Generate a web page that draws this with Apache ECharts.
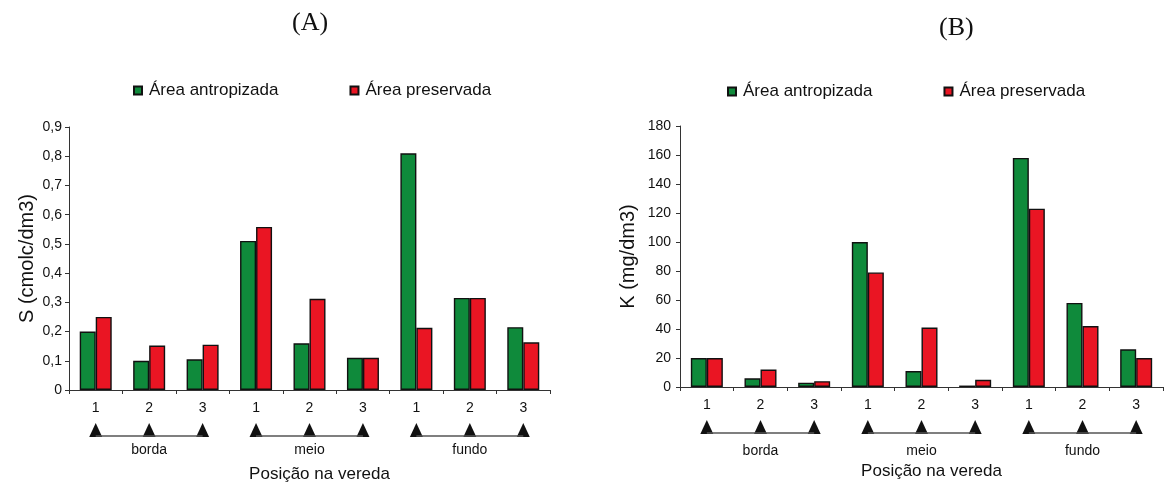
<!DOCTYPE html>
<html>
<head>
<meta charset="utf-8">
<script src="https://cdn.jsdelivr.net/npm/echarts@6/dist/echarts.min.js"></script>
<style>
  html, body { margin: 0; padding: 0; background: #fff; }
  #chart { width: 1170px; height: 490px; }
</style>
</head>
<body>
<div id="chart"></div>
<script>
// Sampling positions along the vereda (three points in each zone)
const categories = ['1', '2', '3', '1', '2', '3', '1', '2', '3'];
const zones = ['borda', 'meio', 'fundo'];
const zoneStart = [0, 3, 6];
const zoneEnd = [2, 5, 8];

// (A) S – soma de bases (cmolc/dm3)
const sAntropizada = [0.20, 0.10, 0.105, 0.51, 0.16, 0.11, 0.81, 0.315, 0.215];
const sPreservada  = [0.25, 0.152, 0.155, 0.558, 0.312, 0.11, 0.213, 0.315, 0.163];

// (B) K – potássio (mg/dm3)
const kAntropizada = [20, 6, 3, 100, 11, 1, 158, 58, 26];
const kPreservada  = [20, 12, 4, 79, 41, 5, 123, 42, 20];

const sTicks = { min: 0, max: 0.9, interval: 0.1 };
const kTicks = { min: 0, max: 180, interval: 20 };

const FONT = '"Liberation Sans", Arial, sans-serif';
const GREEN = '#0f8a3b';
const RED = '#ea1523';
const INK = '#111';

const chart = echarts.init(document.getElementById('chart'), null, { renderer: 'canvas' });

function xAxisFor(gridIndex) {
  return {
    type: 'category',
    gridIndex,
    data: categories,
    name: 'Posição na vereda',
    nameLocation: 'middle',
    nameGap: 76,
    nameTextStyle: { fontFamily: FONT, fontSize: 17, color: INK, padding: [0, 0, 0, 20] },
    axisLine: { lineStyle: { color: '#333', width: 1 } },
    axisTick: { show: true, alignWithLabel: false, length: 4, lineStyle: { color: '#333' } },
    axisLabel: { fontFamily: FONT, fontSize: 14, color: INK, margin: 11 }
  };
}

function yAxisFor(gridIndex, ticks, name, gap, margin, fmt) {
  return {
    type: 'value',
    gridIndex,
    min: ticks.min,
    max: ticks.max,
    interval: ticks.interval,
    name,
    nameLocation: 'middle',
    nameGap: gap,
    nameTextStyle: { fontFamily: FONT, fontSize: 20, color: INK },
    splitLine: { show: false },
    axisLine: { show: true, lineStyle: { color: '#333', width: 1 } },
    axisTick: { show: true, length: 4, lineStyle: { color: '#333' } },
    axisLabel: { fontFamily: FONT, fontSize: 14, color: INK, margin, formatter: fmt }
  };
}

function barSeries(name, color, data, idx) {
  return {
    type: 'bar',
    name,
    xAxisIndex: idx,
    yAxisIndex: idx,
    data,
    barWidth: 16,
    barGap: '0%',
    itemStyle: { color, borderColor: INK, borderWidth: 1.4 },
    emphasis: { disabled: true }
  };
}

// Black arrowheads under each sampling point
function markerSeries(idx) {
  return {
    type: 'custom',
    xAxisIndex: idx,
    yAxisIndex: idx,
    silent: true,
    clip: false,
    data: categories.map((c, i) => [i, 0]),
    renderItem(params, api) {
      const p = api.coord([api.value(0), 0]);
      const x = p[0], y = p[1];
      return {
        type: 'polygon',
        shape: { points: [[x, y + 33], [x - 6.5, y + 47], [x + 6.5, y + 47]] },
        style: { fill: INK }
      };
    }
  };
}

// Bracket line joining the points of each zone, with the zone name
function zoneSeries(idx, labelDy) {
  return {
    type: 'custom',
    xAxisIndex: idx,
    yAxisIndex: idx,
    silent: true,
    clip: false,
    encode: { x: 0, y: 1 },
    data: zones.map((z, i) => [zoneStart[i], 0, zoneEnd[i], z]),
    renderItem(params, api) {
      const a = api.coord([api.value(0), 0]);
      const b = api.coord([api.value(2), 0]);
      const name = zones[params.dataIndex];
      const y = a[1] + 46;
      return {
        type: 'group',
        children: [
          {
            type: 'line',
            shape: { x1: a[0], y1: y, x2: b[0], y2: y },
            style: { stroke: '#555', lineWidth: 1.5 }
          },
          {
            type: 'text',
            style: {
              text: name,
              x: (a[0] + b[0]) / 2,
              y: a[1] + labelDy,
              align: 'center',
              verticalAlign: 'middle',
              font: '14px ' + FONT,
              fill: INK
            }
          }
        ]
      };
    }
  };
}

const legendBase = {
  data: ['Área antropizada', 'Área preservada'],
  icon: 'rect',
  itemWidth: 8,
  itemHeight: 8,
  itemGap: 71,
  selectedMode: false,
  textStyle: { fontFamily: FONT, fontSize: 17, color: INK, padding: [5, 0, 0, 2] }
};

const commaFmt = v => String(Math.round(v * 10) / 10).replace('.', ',');

chart.setOption({
  animation: false,
  backgroundColor: '#fff',
  graphic: [
    { type: 'text', left: 292, top: 10,
      style: { text: '(A)', font: '26px "Liberation Serif", "Times New Roman", serif', fill: INK } },
    { type: 'text', left: 939, top: 15,
      style: { text: '(B)', font: '26px "Liberation Serif", "Times New Roman", serif', fill: INK } }
  ],
  legend: [
    Object.assign({}, legendBase, { left: 128, top: 77 }),
    Object.assign({}, legendBase, { left: 722, top: 78 })
  ],
  grid: [
    { left: 69, top: 127, width: 481, height: 263 },
    { left: 680, top: 126, width: 483, height: 261 }
  ],
  xAxis: [xAxisFor(0), xAxisFor(1)],
  yAxis: [
    yAxisFor(0, sTicks, 'S (cmolc/dm3)', 32, 7, commaFmt),
    yAxisFor(1, kTicks, 'K (mg/dm3)', 42, 9)
  ],
  series: [
    barSeries('Área antropizada', GREEN, sAntropizada, 0),
    barSeries('Área preservada', RED, sPreservada, 0),
    barSeries('Área antropizada', GREEN, kAntropizada, 1),
    barSeries('Área preservada', RED, kPreservada, 1),
    markerSeries(0),
    markerSeries(1),
    zoneSeries(0, 60),
    zoneSeries(1, 64)
  ]
});
</script>
</body>
</html>
